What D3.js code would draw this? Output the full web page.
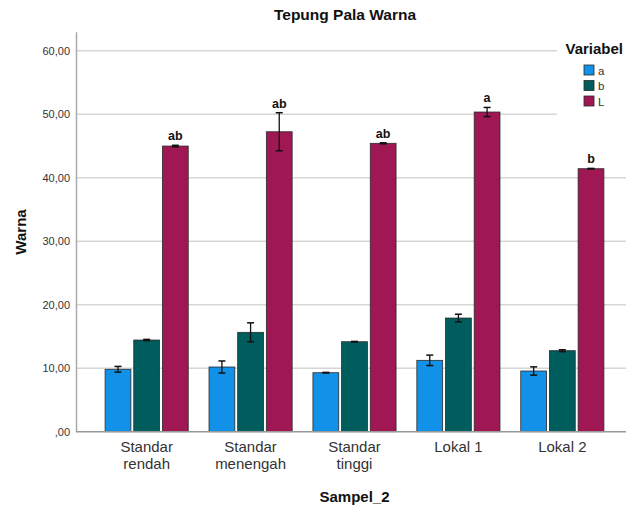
<!DOCTYPE html>
<html>
<head>
<meta charset="utf-8">
<script src="https://cdn.jsdelivr.net/npm/d3@7"></script>
<style>
  html, body { margin: 0; padding: 0; background: #fff; }
  svg { display: block; font-family: "Liberation Sans", Arial, sans-serif; }
</style>
</head>
<body>
<svg id="chart" width="626" height="508"></svg>
<script>
// Sample groups and colour variables
const categories = [["Standar", "rendah"], ["Standar", "menengah"], ["Standar", "tinggi"], ["Lokal 1"], ["Lokal 2"]];
const categoryKeys = ["Standar rendah", "Standar menengah", "Standar tinggi", "Lokal 1", "Lokal 2"];
const variables = ["a", "b", "L"];

// Means per variable (one value per sample group)
const valuesA = [9.83, 10.19, 9.29, 11.24, 9.56];
const valuesB = [14.44, 15.65, 14.17, 17.90, 12.76];
const valuesL = [44.99, 47.24, 45.42, 50.35, 41.42];

// Error half-widths per variable
const errorA = [0.45, 0.95, 0.05, 0.82, 0.65];
const errorB = [0.10, 1.50, 0.05, 0.60, 0.15];
const errorL = [0.12, 3.00, 0.08, 0.72, 0.05];

// Significance letters on the L bars
const letterL = ["ab", "ab", "ab", "a", "b"];

const yTicks = [0, 10, 20, 30, 40, 50, 60];
const colors = ["#1192e8", "#005d5d", "#9f1853"];

const svg = d3.select("#chart");
const plotLeft = 76, plotRight = 633, plotTop = 31.7, plotBottom = 431.7;

const y = d3.scaleLinear().domain([0, 63]).range([plotBottom, plotTop]);
const x0 = d3.scaleBand().domain(categoryKeys).range([plotLeft, plotRight])
  .paddingInner(0.2).paddingOuter(0.28);
const x1 = d3.scaleBand().domain(variables).range([0, x0.bandwidth()]).paddingInner(0.1);

const fmt = v => v === 0 ? ",00" : d3.format(".2f")(v).replace(".", ",");

// Gridlines
svg.append("g").selectAll("line").data(yTicks.slice(1)).join("line")
  .attr("x1", plotLeft).attr("x2", 626)
  .attr("y1", d => y(d)).attr("y2", d => y(d))
  .attr("stroke", "#d6d6d6").attr("stroke-width", 1.5);

// Y axis
const yAxis = svg.append("g").attr("transform", `translate(${plotLeft},0)`)
  .call(d3.axisLeft(y).tickValues(yTicks).tickFormat(fmt).tickSize(0).tickPadding(6));
yAxis.select(".domain").attr("stroke", "#aaaaaa").attr("stroke-width", 1.5);
yAxis.selectAll("text").attr("font-size", 11).attr("fill", "#333")
  .attr("font-family", "'Liberation Sans', Arial, sans-serif");

// Bars
const rows = categoryKeys.map((k, i) => ({
  key: k,
  items: [
    { v: "a", val: valuesA[i], err: errorA[i] },
    { v: "b", val: valuesB[i], err: errorB[i] },
    { v: "L", val: valuesL[i], err: errorL[i] }
  ]
}));

const groups = svg.append("g").selectAll("g").data(rows).join("g")
  .attr("transform", d => `translate(${x0(d.key)},0)`);

groups.selectAll("rect").data(d => d.items).join("rect")
  .attr("x", d => x1(d.v)).attr("width", x1.bandwidth())
  .attr("y", d => y(d.val)).attr("height", d => y(0) - y(d.val))
  .attr("fill", (d, i) => colors[i])
  .attr("stroke", "#2a2a2a").attr("stroke-width", 0.8);

// Error bars
const eb = groups.selectAll("g.err").data(d => d.items).join("g").attr("class", "err");
const cx = d => x1(d.v) + x1.bandwidth() / 2;
eb.append("line")
  .attr("x1", cx).attr("x2", cx)
  .attr("y1", d => y(d.val - d.err)).attr("y2", d => y(d.val + d.err))
  .attr("stroke", "#111").attr("stroke-width", 1.3);
eb.append("line")
  .attr("x1", d => cx(d) - 3.5).attr("x2", d => cx(d) + 3.5)
  .attr("y1", d => y(d.val + d.err)).attr("y2", d => y(d.val + d.err))
  .attr("stroke", "#111").attr("stroke-width", 1.5);
eb.append("line")
  .attr("x1", d => cx(d) - 3.5).attr("x2", d => cx(d) + 3.5)
  .attr("y1", d => y(d.val - d.err)).attr("y2", d => y(d.val - d.err))
  .attr("stroke", "#111").attr("stroke-width", 1.5);

// Letters above L bars
svg.append("g").selectAll("text").data(categoryKeys).join("text")
  .attr("x", k => x0(k) + x1("L") + x1.bandwidth() / 2)
  .attr("y", (k, i) => y(valuesL[i] + errorL[i]) - 5)
  .attr("text-anchor", "middle").attr("font-size", 12.5).attr("font-weight", "bold")
  .attr("fill", "#111")
  .text((k, i) => letterL[i]);

// X axis line
svg.append("line").attr("x1", plotLeft).attr("x2", 626)
  .attr("y1", plotBottom).attr("y2", plotBottom)
  .attr("stroke", "#999").attr("stroke-width", 1.5);

// Category labels
const xl = svg.append("g").selectAll("text").data(categoryKeys).join("text")
  .attr("x", k => x0(k) + x0.bandwidth() / 2)
  .attr("y", 452)
  .attr("text-anchor", "middle").attr("font-size", 15).attr("fill", "#333");
xl.each(function (k, i) {
  const t = d3.select(this);
  categories[i].forEach((line, j) => {
    t.append("tspan").attr("x", x0(k) + x0.bandwidth() / 2)
      .attr("dy", j === 0 ? 0 : 16.5).text(line);
  });
});

// Titles
svg.append("text").attr("x", 345).attr("y", 20).attr("text-anchor", "middle")
  .attr("font-size", 15.5).attr("font-weight", "bold").attr("fill", "#111")
  .text("Tepung Pala Warna");
svg.append("text").attr("x", 354.5).attr("y", 502).attr("text-anchor", "middle")
  .attr("font-size", 15).attr("font-weight", "bold").attr("fill", "#111")
  .text("Sampel_2");
svg.append("text").attr("transform", "translate(26,232) rotate(-90)")
  .attr("text-anchor", "middle")
  .attr("font-size", 15).attr("font-weight", "bold").attr("fill", "#111")
  .text("Warna");

// Legend
const lg = svg.append("g");
lg.append("rect").attr("x", 557).attr("y", 28).attr("width", 80).attr("height", 92).attr("fill", "#fff");
lg.append("text").attr("x", 565.5).attr("y", 53.5)
  .attr("font-size", 15).attr("font-weight", "bold").attr("fill", "#111").text("Variabel");
const li = lg.selectAll("g.item").data(variables).join("g").attr("class", "item")
  .attr("transform", (d, i) => `translate(584,${65 + i * 15.5})`);
li.append("rect").attr("width", 10).attr("height", 10)
  .attr("fill", (d, i) => colors[i]).attr("stroke", "#2a2a2a").attr("stroke-width", 0.8);
li.append("text").attr("x", 14).attr("y", 9.5).attr("font-size", 11.5).attr("fill", "#333").text(d => d);
</script>
</body>
</html>
